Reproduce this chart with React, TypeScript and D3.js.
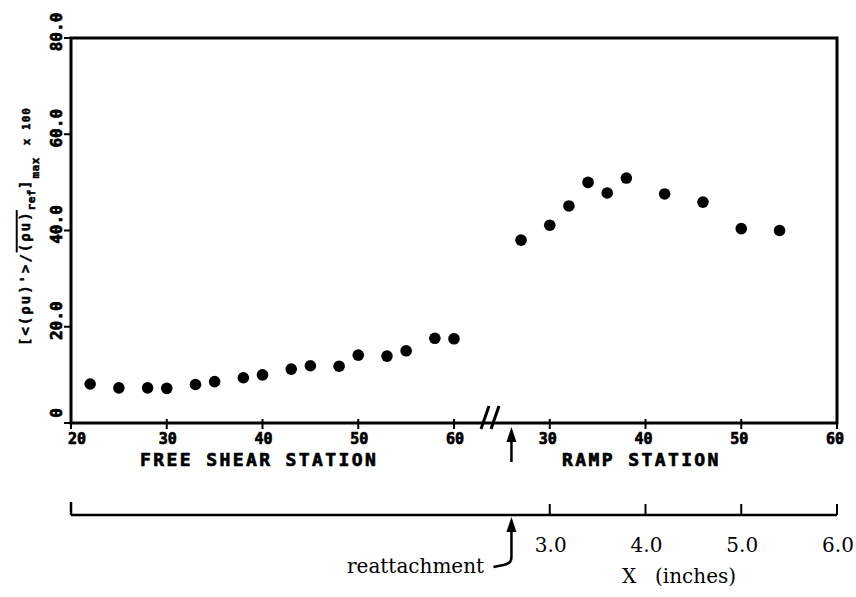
import React from "react";
import * as d3 from "d3";

// ---- data ----
const freeStations = [22, 25, 28, 30, 33, 35, 38, 40, 43, 45, 48, 50, 53, 55, 58, 60];
const freeValues = [8.1, 7.3, 7.3, 7.2, 8.0, 8.6, 9.4, 10.0, 11.2, 11.9, 11.8, 14.1, 13.9, 15.0, 17.6, 17.5];
const rampStations = [27, 30, 32, 34, 36, 38, 42, 46, 50, 54];
const rampValues = [38.0, 41.1, 45.1, 50.0, 47.8, 50.9, 47.6, 45.9, 40.4, 40.0];
const freeTicks = [20, 30, 40, 50, 60];
const rampTicks = [30, 40, 50, 60];
const yTicks = [0, 20, 40, 60, 80];
const inchTicks = [3.0, 4.0, 5.0, 6.0];
const reattachRamp = 26;

const W = 856;
const H = 597;
const L = 71, R = 837, T = 38, B = 423;

// combined position: free station s -> s-20 ; ramp station s -> s+20 ; inch i -> 10*(i+2)
const xU = d3.scaleLinear().domain([0, 80]).range([L, R]);
const xFree = (s: number) => xU(s - 20);
const xRamp = (s: number) => xU(s + 20);
const xInch = (i: number) => xU(10 * (i + 2));
const y = d3.scaleLinear().domain([0, 80]).range([B, T]);

const plotFont = "'DejaVu Sans Mono', monospace";
const serif = "'DejaVu Serif', serif";
const heavy = { stroke: "#000", strokeWidth: 0.7 } as const;

export default function App() {
  const axisY = 515;
  const arrowX = xRamp(reattachRamp);
  return (
    <svg width={W} height={H} style={{ position: "absolute", left: 0, top: 0, background: "#fff" }}>
      {/* frame */}
      <rect x={L} y={T} width={R - L} height={B - T} fill="none" stroke="#000" strokeWidth={3} />
      {/* y ticks */}
      {yTicks.map((t) => (
        <g key={"yt" + t}>
          <line x1={L - 7} x2={L} y1={y(t)} y2={y(t)} stroke="#000" strokeWidth={2} />
          <text
            transform={`translate(62,${y(t) - (t === 0 ? 10 : 6)}) rotate(-90)`}
            textAnchor="middle"
            fontFamily={plotFont}
            fontWeight="bold"
            fontSize={16}
            {...heavy}
          >
            {t === 0 ? "0" : t.toFixed(1)}
          </text>
        </g>
      ))}
      {/* x ticks free */}
      {freeTicks.map((t) => (
        <g key={"ft" + t}>
          <line x1={xFree(t)} x2={xFree(t)} y1={B - 4} y2={B + 6} stroke="#000" strokeWidth={2} />
          <text
            x={xFree(t) + (t === 20 ? 6 : 1)}
            y={444}
            textAnchor="middle"
            fontFamily={plotFont}
            fontWeight="bold"
            fontSize={15}
            {...heavy}
          >
            {t}
          </text>
        </g>
      ))}
      {rampTicks.map((t) => (
        <g key={"rt" + t}>
          <line x1={xRamp(t)} x2={xRamp(t)} y1={B - 4} y2={B + 6} stroke="#000" strokeWidth={2} />
          <text x={xRamp(t) - 2} y={444} textAnchor="middle" fontFamily={plotFont} fontWeight="bold" fontSize={15} {...heavy}>
            {t}
          </text>
        </g>
      ))}
      {/* axis break */}
      <line x1={481} y1={429} x2={489} y2={406} stroke="#000" strokeWidth={3} />
      <line x1={491} y1={429} x2={499} y2={406} stroke="#000" strokeWidth={3} />
      {/* reattachment arrow on main axis */}
      <line x1={arrowX} x2={arrowX} y1={462} y2={436} stroke="#000" strokeWidth={2.5} />
      <path d={`M${arrowX},427 L${arrowX - 5},442 L${arrowX + 5},442 Z`} fill="#000" />
      {/* station labels */}
      <text x={140} y={466} fontFamily={plotFont} fontWeight="bold" fontSize={18} letterSpacing={2.4} {...heavy}>
        FREE SHEAR STATION
      </text>
      <text x={562} y={466} fontFamily={plotFont} fontWeight="bold" fontSize={18} letterSpacing={2.4} {...heavy}>
        RAMP STATION
      </text>
      {/* y axis title */}
      <text
        transform="translate(30,346) rotate(-90)"
        fontFamily={plotFont}
        fontWeight="bold"
        fontSize={14}
        letterSpacing={2}
        {...heavy}
        strokeWidth={0.5}
      >
        <tspan>{"[<(ρu)'>/"}</tspan>
        <tspan textDecoration="overline">(ρu)</tspan>
        <tspan fontSize={11} letterSpacing={0.5} dy={5}>ref</tspan>
        <tspan dy={-5}>]</tspan>
        <tspan fontSize={11} letterSpacing={0.5} dy={9}>max</tspan>
        <tspan fontSize={11} letterSpacing={1} dy={-9} dx={12}>x 100</tspan>
      </text>
      {/* data points */}
      {freeStations.map((s, i) => (
        <circle key={"f" + i} cx={xFree(s)} cy={y(freeValues[i])} r={5.8} fill="#000" />
      ))}
      {rampStations.map((s, i) => (
        <circle key={"r" + i} cx={xRamp(s)} cy={y(rampValues[i])} r={5.8} fill="#000" />
      ))}
      {/* inches axis */}
      <line x1={xInch(-2)} x2={xInch(6)} y1={axisY} y2={axisY} stroke="#000" strokeWidth={2.5} />
      <line x1={xInch(-2)} x2={xInch(-2)} y1={axisY} y2={axisY - 13} stroke="#000" strokeWidth={2.5} />
      {inchTicks.map((t) => (
        <g key={"it" + t}>
          <line x1={xInch(t)} x2={xInch(t)} y1={axisY} y2={axisY - 11} stroke="#000" strokeWidth={2} />
          <text x={xInch(t) + 1} y={552} textAnchor="middle" fontFamily={serif} fontSize={20}>
            {t.toFixed(1)}
          </text>
        </g>
      ))}
      <text x={622} y={583} fontFamily={serif} fontSize={20}>X</text>
      <text x={655} y={583} fontFamily={serif} fontSize={20}>(inches)</text>
      <text x={347} y={573} fontFamily={serif} fontSize={20}>reattachment</text>
      {/* reattachment arrow on inches axis */}
      <path
        d={`M${arrowX - 18},567 L${arrowX - 8},565 Q${arrowX},564 ${arrowX},557 L${arrowX},528`}
        fill="none"
        stroke="#000"
        strokeWidth={2.5}
      />
      <path d={`M${arrowX},517 L${arrowX - 5},532 L${arrowX + 5},532 Z`} fill="#000" />
    </svg>
  );
}
